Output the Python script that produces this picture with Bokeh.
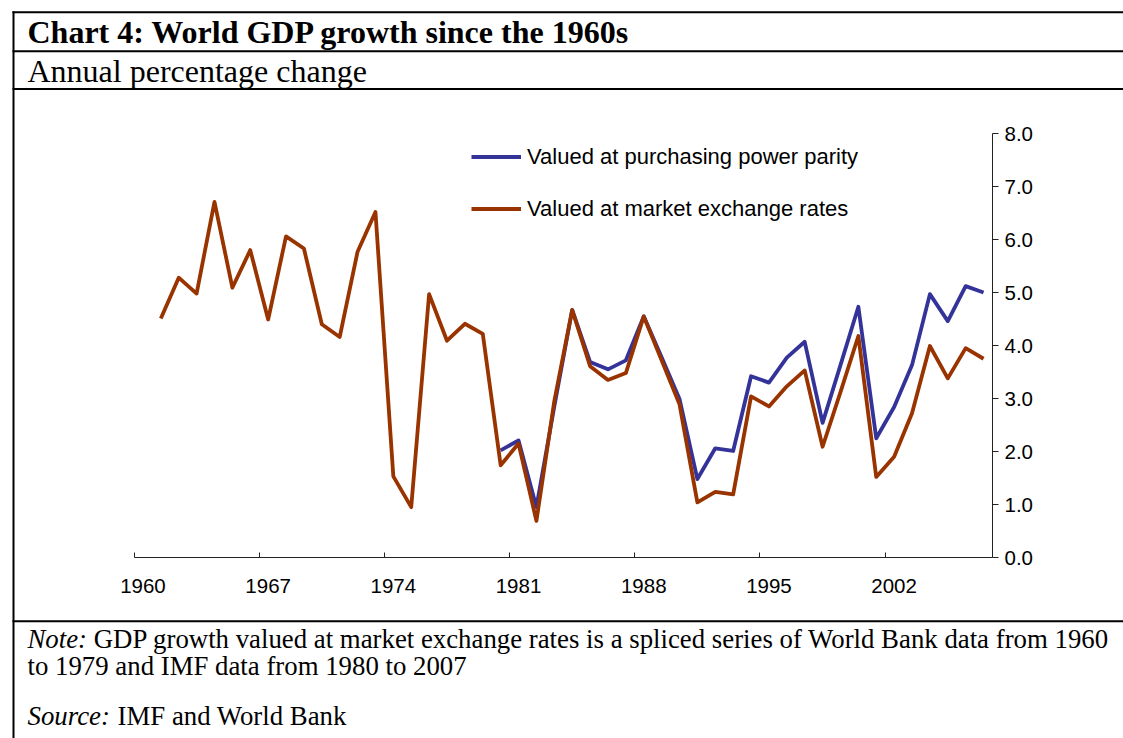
from bokeh.plotting import figure
from bokeh.models import (Range1d, FixedTicker, NumeralTickFormatter, Label,
                          BoxAnnotation, Legend, LegendItem, ColumnDataSource)
from bokeh.embed import file_html
from bokeh.resources import INLINE

# ---------------- data ----------------
market_years = list(range(1961, 2008))
market_growth = [4.51, 5.28, 4.98, 6.71, 5.09, 5.80, 4.49, 6.06, 5.83, 4.40,
                 4.16, 5.77, 6.52, 1.53, 0.95, 4.97, 4.09, 4.41, 4.22,
                 1.74, 2.15, 0.69, 2.95, 4.67, 3.61, 3.35, 3.48, 4.55, 3.72,
                 2.89, 1.04, 1.24, 1.19, 3.04, 2.85, 3.23, 3.53, 2.09, 3.12,
                 4.18, 1.52, 1.90, 2.72, 3.99, 3.38, 3.95, 3.75]
ppp_years = list(range(1980, 2008))
ppp_growth = [2.02, 2.21, 0.95, 2.85, 4.67, 3.69, 3.55, 3.72, 4.55, 3.78,
              2.99, 1.48, 2.06, 2.01, 3.42, 3.30, 3.77, 4.07, 2.54, 3.63,
              4.73, 2.25, 2.84, 3.63, 4.97, 4.46, 5.12, 5.00]
x_tick_labels = [1960, 1967, 1974, 1981, 1988, 1995, 2002]
y_ticks = [0, 1, 2, 3, 4, 5, 6, 7, 8]
legend_labels = ["Valued at purchasing power parity",
                 "Valued at market exchange rates"]
title_text = "Chart 4: World GDP growth since the 1960s"
subtitle_text = "Annual percentage change"
note_lines = ["GDP growth valued at market exchange rates is a spliced series of World Bank data from 1960",
              "to 1979 and IMF data from 1980 to 2007"]
source_text = "IMF and World Bank"

BLUE = "#333399"
RED = "#993300"

# ---------------- layout (pixels) ----------------
W, H = 1123, 738
PX0, PX1 = 133.5, 992.0      # x of 1959.5 and 2007.5
PY0, PY1 = 557.0, 133.0      # y of 0 and 8
X_LO, X_HI = 1959.5, 2007.5
Y_LO, Y_HI = 0.0, 8.0
kx = (PX1 - PX0) / (X_HI - X_LO)
ky = (PY0 - PY1) / (Y_HI - Y_LO)
x_range = Range1d(X_LO - PX0 / kx, X_HI + (W - PX1) / kx)
y_range = Range1d(Y_LO - (H - PY0) / ky, Y_HI + PY1 / ky)

p = figure(width=W, height=H, output_backend="svg", toolbar_location=None,
           x_range=x_range, y_range=y_range, y_axis_location="right",
           min_border=0, min_border_left=0, min_border_right=0,
           min_border_top=0, min_border_bottom=0)
p.outline_line_color = None
p.xgrid.visible = False
p.ygrid.visible = False
p.background_fill_color = "white"
p.border_fill_color = "white"

ppp_src = ColumnDataSource(dict(x=ppp_years, y=ppp_growth))
mkt_src = ColumnDataSource(dict(x=market_years, y=market_growth))
r_ppp = p.line("x", "y", source=ppp_src, line_color=BLUE, line_width=3.8,
               line_join="round")
r_mkt = p.line("x", "y", source=mkt_src, line_color=RED, line_width=3.8,
               line_join="round")

TICK_SIZE = "20.5px"

# x axis
xa = p.xaxis[0]
xa.fixed_location = Y_LO
xa.bounds = (X_LO, X_HI)
xa.ticker = FixedTicker(ticks=x_tick_labels,
                        minor_ticks=[t - 0.5 for t in x_tick_labels])
xa.formatter = NumeralTickFormatter(format="0")
xa.major_tick_line_color = None
xa.major_tick_out = 0
xa.major_tick_in = 0
xa.minor_tick_in = 5
xa.minor_tick_out = 0
xa.minor_tick_line_color = "#222222"
xa.axis_line_color = "#222222"
xa.major_label_text_font = "Liberation Sans"
xa.major_label_text_font_size = TICK_SIZE
xa.major_label_text_color = "black"
xa.major_label_standoff = 21

# y axis (right)
ya = p.yaxis[0]
ya.fixed_location = X_HI
ya.bounds = (Y_LO, Y_HI)
ya.ticker = FixedTicker(ticks=y_ticks)
ya.formatter = NumeralTickFormatter(format="0.0")
ya.major_tick_out = 6
ya.major_tick_in = 0
ya.minor_tick_line_color = None
ya.axis_line_color = "#222222"
ya.major_tick_line_color = "#222222"
ya.major_label_text_font = "Liberation Sans"
ya.major_label_text_font_size = TICK_SIZE
ya.major_label_text_color = "black"
ya.major_label_standoff = 6


def sx(px):
    return px


def sy(py):
    return H - py


# legend
legend = Legend(items=[LegendItem(label=legend_labels[0], renderers=[r_ppp]),
                       LegendItem(label=legend_labels[1], renderers=[r_mkt])],
                location=(sx(471), sy(221.5)), orientation="vertical",
                glyph_width=50, glyph_height=25, label_height=25,
                label_standoff=6, spacing=26, padding=0, margin=0,
                border_line_color=None, background_fill_alpha=0,
                label_text_font="Liberation Sans", label_text_font_size="22px",
                label_text_color="black")
p.add_layout(legend, "center")


def txt(px, baseline, text, size, style="normal"):
    # empirical correction: rendered alphabetic baseline sits ~0.35em lower
    py = baseline - 0.35 * size
    p.add_layout(Label(x=sx(px), y=sy(py), x_units="screen", y_units="screen",
                       text=text, text_font="Liberation Serif",
                       text_font_size=f"{size}px", text_font_style=style,
                       text_color="black", text_baseline="alphabetic",
                       text_align="left"))


def box(px0, px1, py0, py1):
    p.add_layout(BoxAnnotation(left=sx(px0), right=sx(px1), top=sy(py0), bottom=sy(py1),
                               left_units="screen", right_units="screen",
                               top_units="screen", bottom_units="screen",
                               fill_color="black", fill_alpha=1, line_color=None,
                               level="overlay"))


# frame lines
box(12, W + 5, 10.8, 12.8)
box(12, W + 5, 49.8, 51.8)
box(12, W + 5, 87.6, 89.6)
box(12, W + 5, 619.8, 621.8)
box(12, 14, 10.8, H + 5)

# texts
TITLE_SIZE = 32
NOTE_SIZE = 26.8
txt(27, 42.5, title_text, TITLE_SIZE, "bold")
txt(27, 82, subtitle_text, TITLE_SIZE)
txt(27, 648, "Note:", NOTE_SIZE, "italic")
txt(27 + 2.472 * NOTE_SIZE, 648, note_lines[0], NOTE_SIZE)
txt(27, 674.5, note_lines[1], NOTE_SIZE)
txt(27, 725, "Source:", NOTE_SIZE, "italic")
txt(27 + 3.36 * NOTE_SIZE, 725, source_text, NOTE_SIZE)

open("out.html", "w").write(file_html(p, INLINE))
